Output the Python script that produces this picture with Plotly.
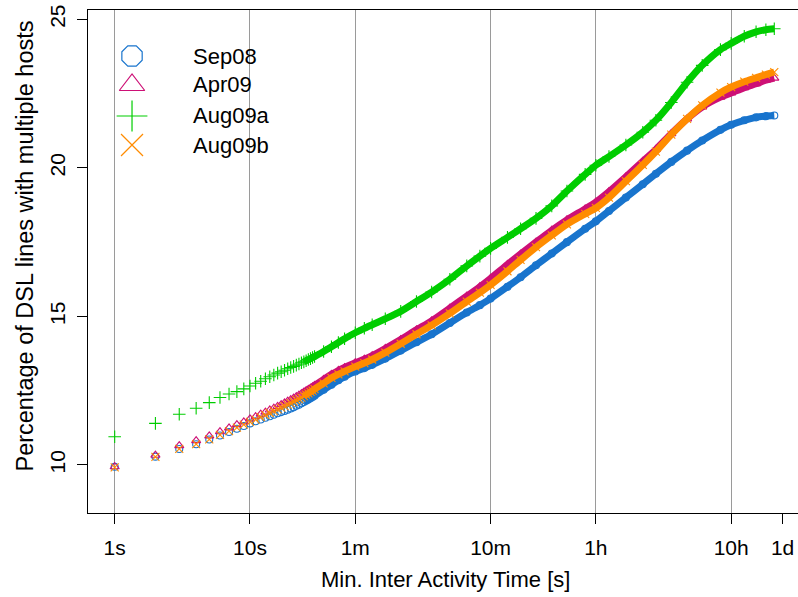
import plotly.graph_objects as go

# ---------------- data ----------------
x_sec = [1, 2, 3, 4, 5, 6, 7, 8, 9, 10,
         11, 12, 13, 14, 15, 16, 17, 18, 19, 20,
         21, 22, 23, 24, 25, 26, 27, 28, 29, 30,
         35, 40, 45, 50, 60, 70, 80, 100,
         130, 170, 220, 300, 400, 500, 600, 800, 1000,
         1300, 1700, 2200, 3000, 3600, 4500, 6000, 8000, 10000,
         13000, 17000, 22000, 30000, 36000, 45000, 55000, 65000, 75000]

sep08 = [9.94, 10.28, 10.54, 10.70, 10.86, 10.99, 11.11, 11.22, 11.31, 11.40,
         11.47, 11.53, 11.59, 11.64, 11.69, 11.74, 11.78, 11.82, 11.86, 11.90,
         11.94, 11.99, 12.03, 12.08, 12.12, 12.16, 12.20, 12.25, 12.29, 12.33,
         12.53, 12.70, 12.85, 12.97, 13.15, 13.26, 13.37, 13.58,
         13.85, 14.13, 14.40, 14.78, 15.13, 15.38, 15.60, 16.00, 16.32,
         16.72, 17.12, 17.50, 17.95, 18.20, 18.55, 19.00, 19.45, 19.80,
         20.20, 20.58, 20.92, 21.28, 21.45, 21.60, 21.70, 21.74, 21.76]

apr09 = [9.94, 10.33, 10.65, 10.82, 10.98, 11.12, 11.25, 11.36, 11.45, 11.55,
         11.63, 11.71, 11.78, 11.85, 11.91, 11.97, 12.03, 12.09, 12.15, 12.20,
         12.25, 12.30, 12.35, 12.40, 12.45, 12.50, 12.54, 12.59, 12.63, 12.68,
         12.88, 13.05, 13.18, 13.28, 13.44, 13.56, 13.68, 13.92,
         14.22, 14.55, 14.85, 15.28, 15.68, 16.00, 16.28, 16.75, 17.10,
         17.50, 17.90, 18.25, 18.62, 18.85, 19.20, 19.70, 20.22, 20.62,
         21.15, 21.65, 22.05, 22.38, 22.52, 22.70, 22.83, 22.95, 23.02]

aug09a = [10.95, 11.40, 11.71, 11.91, 12.10, 12.27, 12.39, 12.47, 12.56, 12.66,
          12.75, 12.82, 12.90, 12.97, 13.03, 13.09, 13.14, 13.19, 13.24, 13.28,
          13.32, 13.36, 13.40, 13.44, 13.47, 13.51, 13.55, 13.58, 13.62, 13.65,
          13.82, 13.98, 14.12, 14.25, 14.45, 14.60, 14.72, 14.92,
          15.17, 15.50, 15.82, 16.25, 16.70, 17.03, 17.29, 17.66, 17.95,
          18.30, 18.72, 19.22, 19.78, 20.09, 20.38, 20.77, 21.20, 21.60,
          22.20, 22.88, 23.45, 23.98, 24.19, 24.43, 24.58, 24.65, 24.68]

aug09b = [9.92, 10.27, 10.54, 10.70, 10.86, 11.01, 11.14, 11.26, 11.36, 11.45,
          11.53, 11.61, 11.68, 11.75, 11.81, 11.87, 11.93, 11.98, 12.03, 12.08,
          12.13, 12.18, 12.22, 12.27, 12.32, 12.37, 12.41, 12.46, 12.50, 12.55,
          12.75, 12.93, 13.05, 13.15, 13.31, 13.43, 13.55, 13.78,
          14.08, 14.40, 14.70, 15.10, 15.50, 15.80, 16.06, 16.52, 16.90,
          17.33, 17.73, 18.10, 18.45, 18.65, 19.00, 19.55, 20.10, 20.55,
          21.12, 21.65, 22.10, 22.53, 22.72, 22.90, 23.03, 23.14, 23.22]

series_names = ["Sep08", "Apr09", "Aug09a", "Aug09b"]
series_values = [sep08, apr09, aug09a, aug09b]

tick_vals = [1, 10, 60, 600, 3600, 36000, 86400]
tick_text = ["1s", "10s", "1m", "10m", "1h", "10h", "1d"]
grid_vals = [1, 10, 60, 600, 3600, 36000]
y_ticks = [10, 15, 20, 25]

# ---------------- styles ----------------
colors = ["#1874CD", "#CD1076", "#00CD00", "#FF8C00"]
symbols = ["circle-open", "triangle-up-open", "cross-thin", "x-thin"]
msize = [7, 8, 9, 8]
legend_symbols = ["octagon-open", "triangle-up-open", "cross-thin", "x-thin"]
FONT = "Liberation Sans, Arial, Helvetica, sans-serif"

DENSE_FROM = 24  # index from which markers overlap into a solid band

fig = go.Figure()

# dummy trace so that the gridline axis is rendered
fig.add_trace(go.Scatter(x=[None], y=[None], xaxis="x3", yaxis="y",
                         showlegend=False, hoverinfo="skip"))

for name, vals, col, sym, ms in zip(series_names, series_values, colors, symbols, msize):
    fig.add_trace(go.Scatter(
        x=x_sec[DENSE_FROM:], y=vals[DENSE_FROM:], mode="lines",
        line=dict(color=col, width=7, shape="spline", smoothing=0.6),
        showlegend=False, hoverinfo="skip"))
    fig.add_trace(go.Scatter(
        x=x_sec, y=vals, mode="markers", name=name,
        marker=dict(symbol=sym, size=ms, color=col,
                    line=dict(color=col, width=1.1)),
        showlegend=False))

# manual legend (large symbols like the reference)
leg_y = [0.9085, 0.8509, 0.7893, 0.7316]
for name, col, sym, ly in zip(series_names, colors, legend_symbols, leg_y):
    fig.add_trace(go.Scatter(
        x=[0.062], y=[ly], xaxis="x2", yaxis="y2", mode="markers",
        marker=dict(symbol=sym, size=22, color=col, line=dict(color=col, width=1.2)),
        showlegend=False, hoverinfo="skip"))
    fig.add_annotation(x=0.1451, y=ly, xref="paper", yref="paper",
                       text=name, showarrow=False, xanchor="left", yanchor="middle",
                       font=dict(family=FONT, size=22, color="black"))

XR = [-0.1973, 5.0503]
YR = [8.384, 25.313]

fig.update_layout(
    width=798, height=597,
    margin=dict(l=88, r=0, t=10, b=84),
    paper_bgcolor="white", plot_bgcolor="white",
    font=dict(family=FONT, size=21, color="black"),
    showlegend=False,
    xaxis=dict(type="log", range=XR, tickvals=tick_vals, ticktext=tick_text,
               showgrid=False, zeroline=False, showline=True, linecolor="black",
               linewidth=1, mirror=True, ticks="outside", ticklen=10,
               tickcolor="black", tickwidth=1, tickfont=dict(size=21),
               ticklabelstandoff=6),
    yaxis=dict(range=YR, tickvals=y_ticks, showgrid=False, zeroline=False,
               showline=True, linecolor="black", linewidth=1, mirror=False,
               ticks="outside", ticklen=10, tickcolor="black", tickwidth=1,
               tickangle=-90, tickfont=dict(size=21), ticklabelstandoff=4),
    xaxis3=dict(type="log", range=XR, overlaying="x", anchor="y",
                tickvals=grid_vals, showgrid=True, gridcolor="#9a9a9a", gridwidth=1,
                showticklabels=False, ticks="", showline=False, zeroline=False),
    xaxis2=dict(range=[0, 1], overlaying="x", anchor="y2", visible=False),
    yaxis2=dict(range=[0, 1], overlaying="y", anchor="x2", visible=False),
)

fig.add_annotation(x=0.504, y=-0.1332, xref="paper", yref="paper",
                   text="Min. Inter Activity Time [s]", showarrow=False,
                   xanchor="center", yanchor="middle",
                   font=dict(family=FONT, size=22, color="black"))
fig.add_annotation(x=-0.0901, y=0.5298, xref="paper", yref="paper",
                   text="Percentage of DSL lines with multiple hosts", showarrow=False,
                   textangle=-90, xanchor="center", yanchor="middle",
                   font=dict(family=FONT, size=23.5, color="black"))

fig.write_html("out.html")
